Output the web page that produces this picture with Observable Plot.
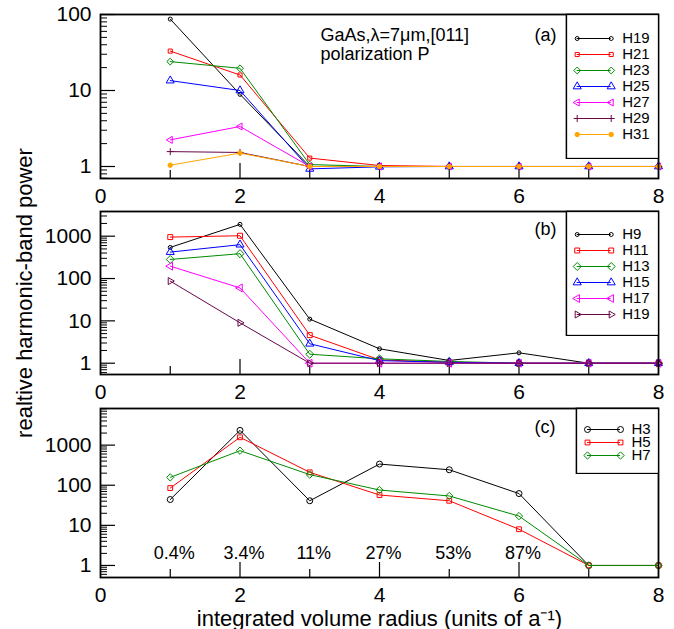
<!DOCTYPE html>
<html><head><meta charset="utf-8">
<script src="https://cdn.jsdelivr.net/npm/d3@7"></script>
<script src="https://cdn.jsdelivr.net/npm/@observablehq/plot@0.6"></script>
<style>
body{margin:0;background:#fff;}
#chart{position:relative;width:674px;height:629px;font-family:"Liberation Sans",Arial,sans-serif;}
#chart svg{display:block;}
.legend{position:absolute;}
</style></head><body><div id="chart"></div>
<script>
// ---------- data ----------
const radius = [1, 2, 3, 4, 5, 6, 7, 8];
const xLabels = [0, 2, 4, 6, 8];
const xMajorTicks = [2, 4, 6];
const xMinorTicks = [1, 3, 5, 7];

// panel (a)
const namesA = ["H19", "H21", "H23", "H25", "H27", "H29", "H31"];
const a_H19 = [87, 8.9, 1.0, 1, 1, 1, 1, 1];
const a_H21 = [33, 16, 1.29, 1.03, 1, 1, 1, 1];
const a_H23 = [24, 19.6, 1.06, 1, 1, 1, 1, 1];
const a_H25 = [13.5, 10, 0.93, 0.99, 1, 1, 1, 1];
const a_H27 = [2.24, 3.36, 1.0, 1, 1, 1, 1, 1];
const a_H29 = [1.57, 1.53, 1.0, 1, 1, 1, 1, 1];
const a_H31 = [1.04, 1.5, 1.0, 1, 1, 1, 1, 1];
const yTicksA = [1, 10, 100];

// panel (b)
const namesB = ["H9", "H11", "H13", "H15", "H17", "H19"];
const b_H9  = [543, 1900, 11, 2.19, 1.16, 1.76, 1.0, 1.0];
const b_H11 = [952, 1025, 4.6, 1.2, 1.05, 1, 1, 1];
const b_H13 = [282, 386, 1.63, 1.27, 1.1, 1, 1, 1];
const b_H15 = [421, 630, 2.88, 1.15, 1.05, 1, 1, 1];
const b_H17 = [196, 60, 1.0, 1, 1, 1, 1, 1];
const b_H19 = [87, 9, 1.0, 1, 1, 1, 1, 1];
const yTicksB = [1, 10, 100, 1000];

// panel (c)
const namesC = ["H3", "H5", "H7"];
const c_H3 = [44, 2330, 41, 337, 243, 62, 1, 1];
const c_H5 = [85, 1566, 210, 57, 41, 8, 1, 1];
const c_H7 = [157, 727, 184, 76, 54, 17, 1, 1];
const yTicksC = [1, 10, 100, 1000];
const pctRadius = [1, 2, 3, 4, 5, 6];
const pctLabels = ["0.4%", "3.4%", "11%", "27%", "53%", "87%"];

const textA1 = "GaAs,λ=7μm,[011]";
const textA2 = "polarization P";
const xTitle = "integrated volume radius (units of a⁻¹)";
const yTitle = "realtive harmonic-band power";

// ---------- styles ----------
const sq3 = Math.sqrt(3);
const triLeft = {draw(ctx, size) {const a = Math.sqrt(size / (3 * sq3)); ctx.moveTo(-2 * a, 0); ctx.lineTo(a, -sq3 * a); ctx.lineTo(a, sq3 * a); ctx.closePath();}};
const triRight = {draw(ctx, size) {const a = Math.sqrt(size / (3 * sq3)); ctx.moveTo(2 * a, 0); ctx.lineTo(-a, -sq3 * a); ctx.lineTo(-a, sq3 * a); ctx.closePath();}};
const BLACK = "#000000", RED = "#ff0000", GREEN = "#008b00", BLUE = "#0000ff", MAGENTA = "#ff00ff", MAROON = "#670748", ORANGE = "#ffa500";

const styleA = {
  colors: [BLACK, RED, GREEN, BLUE, MAGENTA, MAROON, ORANGE],
  symbols: ["circle", "square", "diamond2", "triangle", triLeft, "plus", "circle"],
  sizes: [2, 2.3, 3.1, 3.0, 2.6, 2.4, 2.2],
  fills: ["none", "none", "none", "none", "none", "none", ORANGE]
};
const styleB = {
  colors: [BLACK, RED, GREEN, BLUE, MAGENTA, MAROON],
  symbols: ["circle", "square", "diamond2", "triangle", triLeft, triRight],
  sizes: [2, 2.8, 3.6, 3.0, 2.9, 2.6],
  fills: ["none", "none", "none", "none", "none", "none"]
};
const styleC = {
  colors: [BLACK, RED, GREEN],
  symbols: ["circle", "square", "diamond2"],
  sizes: [3, 2.7, 3.3],
  fills: ["none", "none", "none"]
};

const FONT = '"Liberation Sans", Arial, sans-serif';
const W = 674, ML = 100, MR = 16;

function minorTicks([lo, hi]) {
  const out = [];
  for (let e = Math.floor(Math.log10(lo)); e <= Math.ceil(Math.log10(hi)); e++) {
    for (let k = 2; k <= 9; k++) { const v = k * Math.pow(10, e); if (v >= lo && v <= hi) out.push(v); }
  }
  return out;
}

function panel({series, style, yDomain, yTicks, height, marginTop, marginBottom, extra}) {
  const frameH = height - marginTop - marginBottom;
  const frameW = W - ML - MR;
  const marks = [
    Plot.tickX(xMinorTicks, {x: d => d, insetTop: frameH - 8, stroke: "#000", strokeWidth: 1.2}),
    Plot.tickX(xMajorTicks, {x: d => d, insetTop: frameH - 15, stroke: "#000", strokeWidth: 1.2}),
    Plot.tickY(minorTicks(yDomain), {y: d => d, insetRight: frameW - 7, stroke: "#000", strokeWidth: 1}),
    Plot.tickY(yTicks, {y: d => d, insetRight: frameW - 15, stroke: "#000", strokeWidth: 1.2})
  ];
  series.forEach((vals, i) => {
    const data = radius.map((x, j) => ({r: x, v: vals[j]}));
    marks.push(Plot.line(data, {x: "r", y: "v", stroke: style.colors[i], strokeWidth: 1}));
    marks.push(Plot.dot(data, {x: "r", y: "v", stroke: style.colors[i], fill: style.fills[i], symbol: style.symbols[i], r: style.sizes[i], strokeWidth: 1}));
  });
  marks.push(
    Plot.axisX({ticks: xLabels, tickSize: 0, tickPadding: 10, tickFormat: d => String(d), label: null}),
    Plot.axisY({ticks: yTicks, tickSize: 0, tickPadding: 9, tickFormat: d => String(d), label: null}),
    Plot.frame({stroke: "#000", strokeWidth: 1.8}),
    ...extra
  );
  return Plot.plot({
    width: W, height, marginLeft: ML, marginRight: MR, marginTop, marginBottom,
    x: {domain: [0, 8], label: null},
    y: {type: "log", domain: yDomain, label: null},
    style: {fontFamily: FONT, fontSize: "21px", background: "transparent", overflow: "visible", color: "#000"},
    marks
  });
}

function legend({names, style, width, height, left, top, y0, step, x0, x1, xText}) {
  const el = Plot.plot({
    width, height, margin: 0,
    x: {domain: [0, 1], range: [x0, x1], axis: null},
    y: {type: "point", domain: names, range: [y0, y0 + step * (names.length - 1)], axis: null},
    style: {fontFamily: FONT, fontSize: "15px", background: "transparent", color: "#000"},
    marks: [
      Plot.frame({fill: "white", stroke: "#000", strokeWidth: 1.5, inset: 0.9}),
      ...names.flatMap((n, i) => [
        Plot.ruleY([n], {y: d => d, x1: 0, x2: 1, stroke: style.colors[i], strokeWidth: 1}),
        Plot.dot([0, 1], {x: d => d, y: () => n, stroke: style.colors[i], fill: style.fills[i], symbol: style.symbols[i], r: style.sizes[i], strokeWidth: 1})
      ]),
      Plot.text(names, {y: d => d, frameAnchor: "left", dx: xText, textAnchor: "start", lineAnchor: "middle", fill: "#000"})
    ]
  });
  el.classList.add("legend");
  el.style.left = left + "px";
  el.style.top = top + "px";
  return el;
}

const chart = document.getElementById("chart");
const T = {textAnchor: "start", lineAnchor: "middle", fontSize: 18, frameAnchor: "top-left"};

chart.append(panel({
  series: [a_H19, a_H21, a_H23, a_H25, a_H27, a_H29, a_H31], style: styleA,
  yDomain: [0.695, 100], yTicks: yTicksA, height: 205, marginTop: 14, marginBottom: 27,
  extra: [
    Plot.text([textA1], {...T, dx: 220, dy: 21}),
    Plot.text([textA2], {...T, dx: 220, dy: 40}),
    Plot.text(["(a)"], {...T, dx: 434, dy: 21})
  ]
}));

chart.append(panel({
  series: [b_H9, b_H11, b_H13, b_H15, b_H17, b_H19], style: styleB,
  yDomain: [0.541, 3830], yTicks: yTicksB, height: 200, marginTop: 6, marginBottom: 31,
  extra: [
    Plot.text(["(b)"], {...T, dx: 434, dy: 18}),
    Plot.text([yTitle], {frameAnchor: "left", textAnchor: "middle", lineAnchor: "middle", dx: -76, rotate: -90, fontSize: 22})
  ]
}));

chart.append(panel({
  series: [c_H3, c_H5, c_H7], style: styleC,
  yDomain: [0.501, 8185], yTicks: yTicksC, height: 224, marginTop: 3, marginBottom: 52,
  extra: [
    Plot.text(["(c)"], {...T, dx: 434, dy: 19}),
    Plot.text(pctLabels, {x: (d, i) => pctRadius[i], frameAnchor: "bottom", lineAnchor: "middle", dy: -24, dx: 4, fontSize: 18}),
    Plot.text([xTitle], {frameAnchor: "bottom", textAnchor: "middle", lineAnchor: "middle", dy: 41, fontSize: 22})
  ]
}));

chart.append(legend({names: namesA, style: styleA, width: 94, height: 146, left: 565, top: 13, y0: 14.7, step: 19.55, x0: 11.7, x1: 45.7, xText: 56.7}));
chart.append(legend({names: namesB, style: styleB, width: 94, height: 126, left: 565, top: 210, y0: 14.3, step: 19.7, x0: 11.7, x1: 45.7, xText: 56.7}));
chart.append(legend({names: namesC, style: styleC, width: 84, height: 67, left: 575, top: 407, y0: 15, step: 19.5, x0: 12, x1: 45, xText: 56}));
</script></body></html>
